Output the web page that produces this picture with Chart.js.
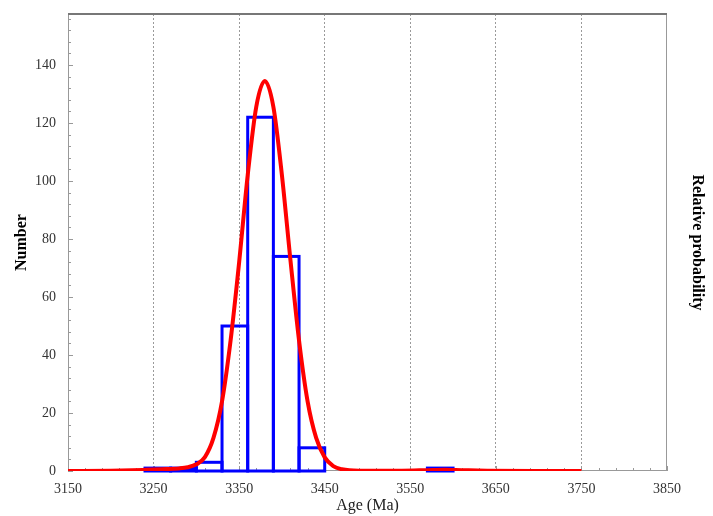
<!DOCTYPE html>
<html>
<head>
<meta charset="utf-8">
<script src="https://cdn.jsdelivr.net/npm/chart.js@4.4.1/dist/chart.umd.min.js"></script>
<style>
  html, body { margin: 0; padding: 0; background: #fff; }
</style>
</head>
<body>
<canvas id="ageChart" width="713" height="516"></canvas>
<script>
// histogram bins (30 Ma wide), start of each bin
const binStarts = [3240, 3270, 3300, 3330, 3360, 3390, 3420, 3450, 3480, 3510, 3540, 3570];
const binCounts = [1, 1, 3, 50, 122, 74, 8, 0, 0, 0, 0, 1];
const binWidth = 30;

// relative probability curve (in Number units)
const curveAges = [3150, 3200, 3240, 3260, 3280, 3290, 3300, 3310, 3320, 3330, 3340, 3350, 3360, 3370, 3380,
  3390, 3400, 3410, 3420, 3430, 3440, 3450, 3460, 3470, 3490, 3540, 3570, 3590, 3610, 3640, 3700, 3750];
const curveValues = [0, 0.1, 0.4, 0.6, 0.9, 1.3, 2.3, 4.8, 11.4, 24, 45, 72, 102, 125.6, 134.5,
  125.6, 102, 72.6, 45, 24, 11.4, 4.7, 1.7, 0.6, 0.1, 0.1, 0.3, 0.45, 0.3, 0.1, 0, 0];

const xTicks = [3150, 3250, 3350, 3450, 3550, 3650, 3750, 3850];
const yTicks = [0, 20, 40, 60, 80, 100, 120, 140];

const serif = "'Liberation Serif', 'Times New Roman', serif";
const yMax = 157.6;

const histData = binStarts.map(function(s, i) {
  return { x: s + binWidth / 2, y: binCounts[i] > 0 ? binCounts[i] : null };
});
const curveData = curveAges.map(function(a, i) {
  return { x: a, y: curveValues[i] };
});

function noPad(scale) {
  scale.paddingTop = 0;
  scale.paddingBottom = 0;
  scale.paddingLeft = 0;
  scale.paddingRight = 0;
}

// frame + inward tick marks
const framePlugin = {
  id: 'frame',
  beforeDatasetsDraw(chart) {
    const ctx = chart.ctx;
    const a = chart.chartArea;
    const xs = chart.scales.x, ys = chart.scales.y;
    ctx.save();
    ctx.lineWidth = 1;
    ctx.strokeStyle = '#999';
    ctx.beginPath();
    ctx.moveTo(a.left + 0.5, a.top);
    ctx.lineTo(a.left + 0.5, a.bottom);
    ctx.moveTo(a.right - 0.5, a.top);
    ctx.lineTo(a.right - 0.5, a.bottom);
    ctx.moveTo(a.left, a.bottom - 0.5);
    ctx.lineTo(a.right, a.bottom - 0.5);
    for (let v = 0; v <= yMax; v += 4) {
      const py = Math.round(ys.getPixelForValue(v)) + 0.5;
      const len = v % 20 === 0 ? 5 : 3;
      ctx.moveTo(a.left, py);
      ctx.lineTo(a.left + len, py);
    }
    for (let v = 3150; v <= 3850; v += 20) {
      const px = Math.round(xs.getPixelForValue(v)) + 0.5;
      const len = (v - 3150) % 100 === 0 ? 5 : 3;
      ctx.moveTo(px, a.bottom);
      ctx.lineTo(px, a.bottom - len);
    }
    ctx.stroke();
    ctx.lineWidth = 2;
    ctx.strokeStyle = '#777';
    ctx.beginPath();
    ctx.moveTo(a.left, a.top);
    ctx.lineTo(a.right, a.top);
    ctx.stroke();
    ctx.restore();
  }
};

// outline the histogram bars with centred strokes so shared edges stay single lines
const outlinePlugin = {
  id: 'outline',
  beforeDatasetsDraw(chart) {
    const ctx = chart.ctx;
    const meta = chart.getDatasetMeta(1);
    ctx.save();
    ctx.lineWidth = 3;
    ctx.strokeStyle = '#0000ff';
    meta.data.forEach(function(bar, i) {
      if (histData[i].y === null) return;
      const left = bar.x - bar.width / 2;
      ctx.strokeRect(left, bar.y, bar.width, bar.base - bar.y);
    });
    ctx.restore();
  }
};

new Chart(document.getElementById('ageChart'), {
  type: 'bar',
  data: {
    datasets: [
      {
        type: 'line',
        label: 'Relative probability',
        data: curveData,
        yAxisID: 'y2',
        borderColor: '#ff0000',
        borderWidth: 4,
        pointRadius: 0,
        cubicInterpolationMode: 'monotone',
        fill: false,
        order: 0
      },
      {
        type: 'bar',
        label: 'Number',
        data: histData,
        yAxisID: 'y',
        backgroundColor: 'rgba(0,0,0,0)',
        borderWidth: 0,
        inflateAmount: 0,
        barPercentage: 1,
        categoryPercentage: 1,
        grouped: false,
        order: 1
      }
    ]
  },
  options: {
    responsive: false,
    animation: false,
    devicePixelRatio: 1,
    layout: { padding: { top: 14, left: 0, right: 0, bottom: 0 } },
    plugins: {
      legend: { display: false },
      tooltip: { enabled: false }
    },
    scales: {
      x: {
        type: 'linear',
        min: 3150,
        max: 3850,
        offset: false,
        afterBuildTicks: function(scale) {
          scale.ticks = xTicks.map(function(v) { return { value: v }; });
        },
        afterFit: function(scale) { scale.height = 45; noPad(scale); },
        ticks: {
          font: { family: serif, size: 14 },
          color: '#333',
          padding: 10,
          maxRotation: 0,
          callback: function(v) { return String(v); }
        },
        grid: {
          offset: false,
          drawTicks: false,
          lineWidth: 1,
          color: function(c) {
            const v = c.tick && c.tick.value;
            return (v === 3150 || v === 3850) ? 'rgba(0,0,0,0)' : '#9a9a9a';
          }
        },
        border: { display: false, dash: [2, 2] },
        title: {
          display: true,
          text: 'Age (Ma)',
          font: { family: serif, size: 16 },
          color: '#222',
          padding: { top: 0, bottom: 1 }
        }
      },
      y: {
        type: 'linear',
        position: 'left',
        min: 0,
        max: yMax,
        afterBuildTicks: function(scale) {
          scale.ticks = yTicks.map(function(v) { return { value: v }; });
        },
        afterFit: function(scale) { scale.width = 68; noPad(scale); },
        ticks: {
          font: { family: serif, size: 14 },
          color: '#333',
          padding: 12
        },
        grid: { display: false, drawTicks: false },
        border: { display: false },
        title: {
          display: true,
          text: 'Number',
          font: { family: serif, size: 16, weight: 'bold' },
          color: '#000',
          padding: { top: 12, bottom: 0 }
        }
      },
      y2: {
        type: 'linear',
        position: 'right',
        min: 0,
        max: yMax,
        afterFit: function(scale) { scale.width = 46; noPad(scale); },
        ticks: { display: false },
        grid: { display: false, drawTicks: false },
        border: { display: false },
        title: {
          display: true,
          text: 'Relative probability',
          font: { family: serif, size: 16, weight: 'bold' },
          color: '#000',
          padding: { top: 6, bottom: 0 }
        }
      }
    }
  },
  plugins: [framePlugin, outlinePlugin]
});
</script>
</body>
</html>
